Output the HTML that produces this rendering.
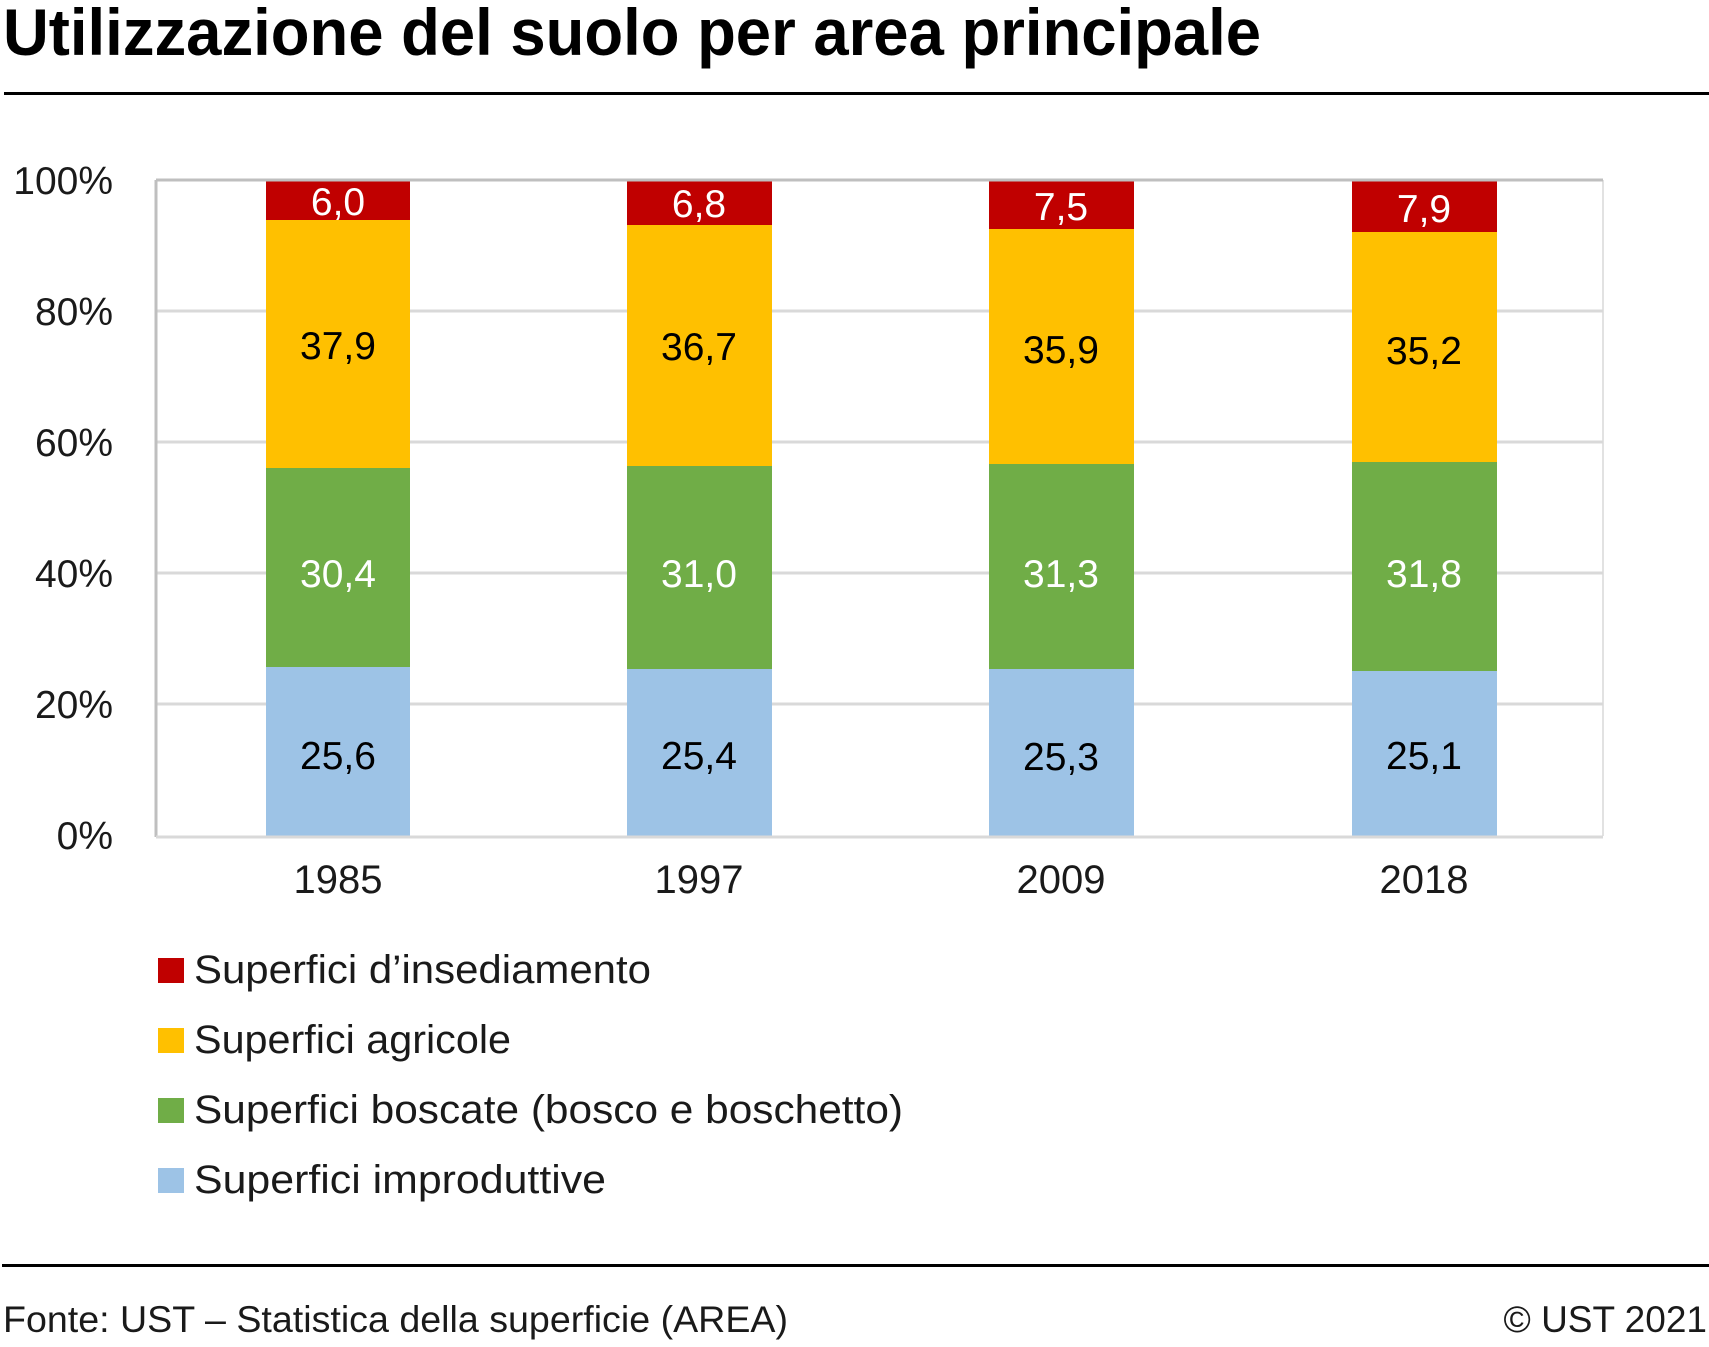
<!DOCTYPE html>
<html><head><meta charset="utf-8"><style>
html,body{margin:0;padding:0;background:#fff;}
svg{display:block;}
text{font-family:"Liberation Sans",sans-serif;}
</style></head><body>
<svg width="1709" height="1347" viewBox="0 0 1709 1347" xmlns="http://www.w3.org/2000/svg">
<text x="3" y="55" font-size="66" font-weight="bold" textLength="1258" lengthAdjust="spacingAndGlyphs" fill="#000">Utilizzazione del suolo per area principale</text>
<rect x="4" y="92" width="1705" height="3" fill="#000"/>
<g stroke="#d9d9d9" stroke-width="3">
<line x1="156" y1="311" x2="1603" y2="311"/>
<line x1="156" y1="442" x2="1603" y2="442"/>
<line x1="156" y1="573" x2="1603" y2="573"/>
<line x1="156" y1="704" x2="1603" y2="704"/>
</g>
<line x1="1603" y1="180" x2="1603" y2="836" stroke="#d9d9d9" stroke-width="1.5"/>
<g>
<rect x="266" y="667" width="144" height="169" fill="#9dc3e6"/>
<rect x="266" y="468" width="144" height="199" fill="#70ad47"/>
<rect x="266" y="220" width="144" height="248" fill="#ffc000"/>
<rect x="266" y="180" width="144" height="40" fill="#c00000"/>
<rect x="627" y="669" width="145" height="167" fill="#9dc3e6"/>
<rect x="627" y="466" width="145" height="203" fill="#70ad47"/>
<rect x="627" y="225" width="145" height="241" fill="#ffc000"/>
<rect x="627" y="180" width="145" height="45" fill="#c00000"/>
<rect x="989" y="669" width="145" height="167" fill="#9dc3e6"/>
<rect x="989" y="464" width="145" height="205" fill="#70ad47"/>
<rect x="989" y="229" width="145" height="235" fill="#ffc000"/>
<rect x="989" y="180" width="145" height="49" fill="#c00000"/>
<rect x="1352" y="671" width="145" height="165" fill="#9dc3e6"/>
<rect x="1352" y="462" width="145" height="209" fill="#70ad47"/>
<rect x="1352" y="232" width="145" height="230" fill="#ffc000"/>
<rect x="1352" y="180" width="145" height="52" fill="#c00000"/>
</g>
<line x1="156" y1="180" x2="1603" y2="180" stroke="#bfbfbf" stroke-width="3"/>
<line x1="156" y1="180" x2="156" y2="837" stroke="#bfbfbf" stroke-width="3"/>
<line x1="156" y1="837" x2="1603" y2="837" stroke="#d9d9d9" stroke-width="3"/>
<g font-size="39" fill="#1a1a1a" text-anchor="end">
<text x="113" y="194">100%</text>
<text x="113" y="325">80%</text>
<text x="113" y="456">60%</text>
<text x="113" y="587">40%</text>
<text x="113" y="718">20%</text>
<text x="113" y="849">0%</text>
</g>
<g font-size="40" fill="#1a1a1a" text-anchor="middle">
<text x="338" y="893">1985</text>
<text x="699" y="893">1997</text>
<text x="1061" y="893">2009</text>
<text x="1424" y="893">2018</text>
</g>
<g font-size="39" text-anchor="middle">
<text x="338" y="215" fill="#fff">6,0</text>
<text x="338" y="359" fill="#000">37,9</text>
<text x="338" y="587" fill="#fff">30,4</text>
<text x="338" y="769" fill="#000">25,6</text>
<text x="699" y="217" fill="#fff">6,8</text>
<text x="699" y="360" fill="#000">36,7</text>
<text x="699" y="587" fill="#fff">31,0</text>
<text x="699" y="769" fill="#000">25,4</text>
<text x="1061" y="220" fill="#fff">7,5</text>
<text x="1061" y="363" fill="#000">35,9</text>
<text x="1061" y="587" fill="#fff">31,3</text>
<text x="1061" y="770" fill="#000">25,3</text>
<text x="1424" y="222" fill="#fff">7,9</text>
<text x="1424" y="364" fill="#000">35,2</text>
<text x="1424" y="587" fill="#fff">31,8</text>
<text x="1424" y="769" fill="#000">25,1</text>
</g>
<rect x="158" y="958" width="26" height="25" fill="#c00000"/>
<rect x="158" y="1028" width="26" height="25" fill="#ffc000"/>
<rect x="158" y="1098" width="26" height="25" fill="#70ad47"/>
<rect x="158" y="1168" width="26" height="25" fill="#9dc3e6"/>
<g font-size="40" fill="#1a1a1a">
<text x="194" y="983" textLength="457" lengthAdjust="spacingAndGlyphs">Superfici d’insediamento</text>
<text x="194" y="1053" textLength="317" lengthAdjust="spacingAndGlyphs">Superfici agricole</text>
<text x="194" y="1123" textLength="709" lengthAdjust="spacingAndGlyphs">Superfici boscate (bosco e boschetto)</text>
<text x="194" y="1193" textLength="412" lengthAdjust="spacingAndGlyphs">Superfici improduttive</text>
</g>
<rect x="2" y="1264" width="1707" height="3" fill="#000"/>
<g font-size="37" fill="#1a1a1a">
<text x="3" y="1332" textLength="785" lengthAdjust="spacingAndGlyphs">Fonte: UST – Statistica della superficie (AREA)</text>
<text x="1707" y="1332" text-anchor="end">© UST 2021</text>
</g>
</svg>
</body></html>
